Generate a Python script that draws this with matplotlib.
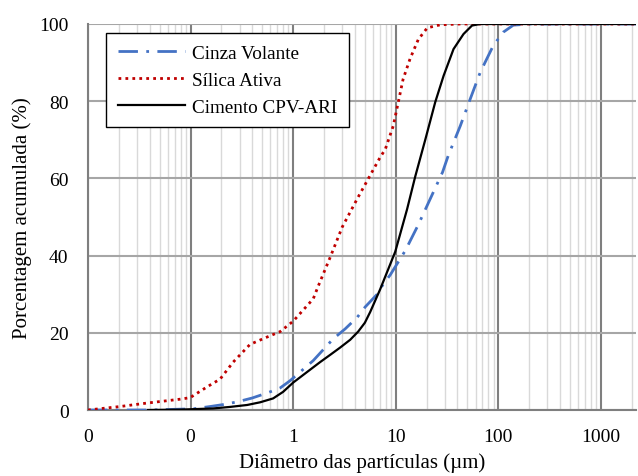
import matplotlib
matplotlib.use("Agg")
import matplotlib.pyplot as plt
from matplotlib.ticker import LogLocator, NullFormatter

plt.rcParams['font.family'] = ['Liberation Serif', 'DejaVu Serif']

# Cinza Volante (fly ash)
cv_d = [0.01, 0.040, 0.106, 0.155, 0.207, 0.284, 0.398, 0.557, 0.746, 0.935, 1.57, 2.45, 3.21,
        4.21, 5.04, 6.60, 7.55, 8.84, 12.4, 16.6, 21.7, 28.6, 32.5, 42.6, 53.3, 66.7, 89.3, 112, 140, 205, 2500]
cv_p = [0, 0, 0.3, 0.9, 1.4, 2.1, 3.1, 4.4, 5.7, 7.6, 12.8, 18.4, 21.0,
        24.0, 26.7, 30.0, 32.6, 35.0, 41.3, 48.0, 54.7, 61.6, 65.9, 73.6, 80.6, 87.5, 94.4, 97.9, 99.7, 100, 100]

# Sílica Ativa (silica fume)
sa_d = [0.01, 0.0205, 0.0377, 0.079, 0.099, 0.145, 0.194, 0.260, 0.380, 0.557, 0.746, 1.0, 1.57, 1.75,
        2.30, 3.01, 4.21, 5.27, 7.06, 7.9, 9.46, 10.6, 11.8, 13.8, 16.6, 20.3, 27.2, 42.6, 2500]
sa_p = [0, 0.9, 1.8, 2.8, 3.2, 6.0, 8.0, 12.4, 17.0, 18.9, 20.3, 23.0, 28.8, 32.0,
        39.6, 47.4, 54.7, 59.4, 65.5, 67.5, 73.6, 79.8, 85.7, 91.0, 96.0, 99.0, 99.8, 100, 100]

# Cimento CPV-ARI
ci_d = [0.0385, 0.079, 0.166, 0.243, 0.356, 0.477, 0.638, 0.798, 1.0, 1.36, 1.83, 2.30, 2.88, 3.6, 4.3,
        5.0, 5.64, 7.06, 9.89, 12.9, 15.5, 19.4, 24.3, 29.3, 36.6, 45.8, 55.4, 66.7, 2500]
ci_p = [0, 0.1, 0.4, 0.8, 1.3, 2.0, 3.0, 4.7, 7.1, 9.8, 12.4, 14.3, 16.2, 18.2, 20.3,
        22.6, 25.4, 31.3, 41.0, 52.0, 60.5, 70.0, 79.8, 86.6, 93.5, 97.4, 99.6, 100, 100]

x_ticks = [0.01, 0.1, 1, 10, 100, 1000]
x_tick_labels = ["0", "0", "1", "10", "100", "1000"]
y_ticks = [0, 20, 40, 60, 80, 100]

fig = plt.figure(figsize=(6.38, 4.77), dpi=100)
ax = fig.add_axes([88/638, 1-411/477, (636-88)/638, (411-25)/477])

ax.plot(cv_d, cv_p, color='#4472C4', lw=2.0, linestyle=(0, (7, 3, 1, 3)), label='Cinza Volante', zorder=3)
ax.plot(sa_d, sa_p, color='#C00000', lw=2.0, linestyle=(0, (1, 1.5)), label='Sílica Ativa', zorder=3)
ax.plot(ci_d, ci_p, color='black', lw=1.6, linestyle='-', label='Cimento CPV-ARI', zorder=4)

ax.set_xscale('log')
ax.set_xlim(0.01, 2200)
ax.set_ylim(0, 100)
ax.set_xticks(x_ticks)
ax.set_xticklabels(x_tick_labels)
ax.xaxis.set_minor_locator(LogLocator(base=10, subs=range(2, 10), numticks=100))
ax.xaxis.set_minor_formatter(NullFormatter())
ax.set_yticks(y_ticks)

ax.grid(which='minor', axis='x', color='#d9d9d9', lw=1.0, zorder=0)
ax.grid(which='major', axis='x', color='#7f7f7f', lw=1.5, zorder=1)
ax.grid(which='major', axis='y', color='#a6a6a6', lw=1.5, zorder=1)

for s in ['top', 'right']:
    ax.spines[s].set_visible(False)
for s in ['left', 'bottom']:
    ax.spines[s].set_color('#7f7f7f')
    ax.spines[s].set_linewidth(1.5)

ax.tick_params(axis='both', which='both', length=0, labelsize=14)
ax.tick_params(axis='x', pad=13)
ax.tick_params(axis='y', pad=14)

ax.set_xlabel('Diâmetro das partículas (µm)', fontsize=15, labelpad=5)
ax.set_ylabel('Porcentagem acumulada (%)', fontsize=15, labelpad=5)

leg = ax.legend(loc='upper left', bbox_to_anchor=((106-88)/548, (411-34)/386), fontsize=13.8,
                frameon=True, fancybox=False, edgecolor='black', framealpha=1,
                handlelength=3.5, borderpad=0.6, labelspacing=0.5, handletextpad=0.4,
                borderaxespad=0)
leg.get_frame().set_linewidth(1.0)

fig.savefig('out.png', dpi=100)
